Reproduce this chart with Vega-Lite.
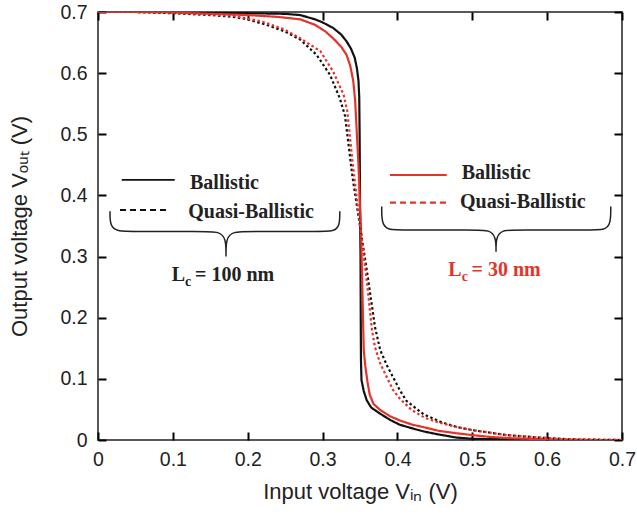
{
  "$schema": "https://vega.github.io/schema/vega-lite/v6.json",
  "width": 524,
  "height": 428,
  "autosize": "none",
  "padding": {"left": 98, "top": 12, "right": 15, "bottom": 75},
  "background": "white",
  "config": {
    "view": {"stroke": "#222", "strokeWidth": 1.5},
    "axis": {
      "domain": false,
      "grid": false,
      "labelFont": "Liberation Sans",
      "labelFontSize": 19.5,
      "labelColor": "#222",
      "titleFont": "Liberation Sans",
      "titleFontSize": 22,
      "titleFontWeight": "normal",
      "titleColor": "#222"
    }
  },
  "datasets": {
    "curves": [
      {"s": "B100", "x": 0.0, "y": 0.7},
      {"s": "B100", "x": 0.05, "y": 0.7},
      {"s": "B100", "x": 0.1, "y": 0.7},
      {"s": "B100", "x": 0.15, "y": 0.699},
      {"s": "B100", "x": 0.2, "y": 0.698},
      {"s": "B100", "x": 0.25, "y": 0.697},
      {"s": "B100", "x": 0.27, "y": 0.695},
      {"s": "B100", "x": 0.29, "y": 0.688},
      {"s": "B100", "x": 0.3, "y": 0.683},
      {"s": "B100", "x": 0.314, "y": 0.674},
      {"s": "B100", "x": 0.325, "y": 0.663},
      {"s": "B100", "x": 0.332, "y": 0.652},
      {"s": "B100", "x": 0.338, "y": 0.64},
      {"s": "B100", "x": 0.343, "y": 0.625},
      {"s": "B100", "x": 0.346, "y": 0.607},
      {"s": "B100", "x": 0.348, "y": 0.587},
      {"s": "B100", "x": 0.349, "y": 0.56},
      {"s": "B100", "x": 0.3495, "y": 0.5},
      {"s": "B100", "x": 0.35, "y": 0.4},
      {"s": "B100", "x": 0.3503, "y": 0.35},
      {"s": "B100", "x": 0.3507, "y": 0.3},
      {"s": "B100", "x": 0.351, "y": 0.2},
      {"s": "B100", "x": 0.3513, "y": 0.13},
      {"s": "B100", "x": 0.352, "y": 0.098},
      {"s": "B100", "x": 0.355, "y": 0.08},
      {"s": "B100", "x": 0.359, "y": 0.065},
      {"s": "B100", "x": 0.365, "y": 0.053},
      {"s": "B100", "x": 0.377, "y": 0.043},
      {"s": "B100", "x": 0.39, "y": 0.033},
      {"s": "B100", "x": 0.403, "y": 0.025},
      {"s": "B100", "x": 0.42, "y": 0.019},
      {"s": "B100", "x": 0.435, "y": 0.014},
      {"s": "B100", "x": 0.455, "y": 0.009},
      {"s": "B100", "x": 0.479, "y": 0.004},
      {"s": "B100", "x": 0.5, "y": 0.002},
      {"s": "B100", "x": 0.55, "y": 0.001},
      {"s": "B100", "x": 0.6, "y": 0.0},
      {"s": "B100", "x": 0.7, "y": 0.0},

      {"s": "B30", "x": 0.0, "y": 0.7},
      {"s": "B30", "x": 0.05, "y": 0.7},
      {"s": "B30", "x": 0.1, "y": 0.699},
      {"s": "B30", "x": 0.15, "y": 0.697},
      {"s": "B30", "x": 0.2, "y": 0.695},
      {"s": "B30", "x": 0.24, "y": 0.692},
      {"s": "B30", "x": 0.27, "y": 0.688},
      {"s": "B30", "x": 0.29, "y": 0.679},
      {"s": "B30", "x": 0.304, "y": 0.668},
      {"s": "B30", "x": 0.314, "y": 0.657},
      {"s": "B30", "x": 0.325, "y": 0.643},
      {"s": "B30", "x": 0.332, "y": 0.63},
      {"s": "B30", "x": 0.337, "y": 0.612},
      {"s": "B30", "x": 0.341, "y": 0.587},
      {"s": "B30", "x": 0.3435, "y": 0.556},
      {"s": "B30", "x": 0.345, "y": 0.52},
      {"s": "B30", "x": 0.348, "y": 0.45},
      {"s": "B30", "x": 0.35, "y": 0.38},
      {"s": "B30", "x": 0.351, "y": 0.355},
      {"s": "B30", "x": 0.352, "y": 0.31},
      {"s": "B30", "x": 0.354, "y": 0.2},
      {"s": "B30", "x": 0.355, "y": 0.147},
      {"s": "B30", "x": 0.357, "y": 0.122},
      {"s": "B30", "x": 0.36, "y": 0.095},
      {"s": "B30", "x": 0.363, "y": 0.074},
      {"s": "B30", "x": 0.368, "y": 0.059},
      {"s": "B30", "x": 0.377, "y": 0.049},
      {"s": "B30", "x": 0.39, "y": 0.039},
      {"s": "B30", "x": 0.403, "y": 0.032},
      {"s": "B30", "x": 0.42, "y": 0.025},
      {"s": "B30", "x": 0.435, "y": 0.021},
      {"s": "B30", "x": 0.455, "y": 0.015},
      {"s": "B30", "x": 0.479, "y": 0.011},
      {"s": "B30", "x": 0.5, "y": 0.008},
      {"s": "B30", "x": 0.524, "y": 0.005},
      {"s": "B30", "x": 0.55, "y": 0.003},
      {"s": "B30", "x": 0.6, "y": 0.001},
      {"s": "B30", "x": 0.65, "y": 0.0},
      {"s": "B30", "x": 0.7, "y": 0.0},

      {"s": "Q100", "x": 0.0, "y": 0.7},
      {"s": "Q100", "x": 0.05, "y": 0.7},
      {"s": "Q100", "x": 0.1, "y": 0.698},
      {"s": "Q100", "x": 0.15, "y": 0.695},
      {"s": "Q100", "x": 0.181, "y": 0.692},
      {"s": "Q100", "x": 0.2, "y": 0.688},
      {"s": "Q100", "x": 0.225, "y": 0.679},
      {"s": "Q100", "x": 0.25, "y": 0.668},
      {"s": "Q100", "x": 0.27, "y": 0.655},
      {"s": "Q100", "x": 0.292, "y": 0.63},
      {"s": "Q100", "x": 0.31, "y": 0.597},
      {"s": "Q100", "x": 0.323, "y": 0.559},
      {"s": "Q100", "x": 0.33, "y": 0.53},
      {"s": "Q100", "x": 0.34, "y": 0.43},
      {"s": "Q100", "x": 0.35, "y": 0.35},
      {"s": "Q100", "x": 0.36, "y": 0.27},
      {"s": "Q100", "x": 0.37, "y": 0.185},
      {"s": "Q100", "x": 0.377, "y": 0.147},
      {"s": "Q100", "x": 0.386, "y": 0.122},
      {"s": "Q100", "x": 0.403, "y": 0.082},
      {"s": "Q100", "x": 0.412, "y": 0.064},
      {"s": "Q100", "x": 0.435, "y": 0.042},
      {"s": "Q100", "x": 0.457, "y": 0.03},
      {"s": "Q100", "x": 0.48, "y": 0.021},
      {"s": "Q100", "x": 0.501, "y": 0.016},
      {"s": "Q100", "x": 0.546, "y": 0.008},
      {"s": "Q100", "x": 0.59, "y": 0.004},
      {"s": "Q100", "x": 0.63, "y": 0.001},
      {"s": "Q100", "x": 0.7, "y": 0.0},

      {"s": "Q30", "x": 0.0, "y": 0.7},
      {"s": "Q30", "x": 0.05, "y": 0.7},
      {"s": "Q30", "x": 0.1, "y": 0.699},
      {"s": "Q30", "x": 0.15, "y": 0.696},
      {"s": "Q30", "x": 0.181, "y": 0.694},
      {"s": "Q30", "x": 0.22, "y": 0.684},
      {"s": "Q30", "x": 0.25, "y": 0.671},
      {"s": "Q30", "x": 0.27, "y": 0.657},
      {"s": "Q30", "x": 0.297, "y": 0.636},
      {"s": "Q30", "x": 0.314, "y": 0.603},
      {"s": "Q30", "x": 0.328, "y": 0.565},
      {"s": "Q30", "x": 0.333, "y": 0.538},
      {"s": "Q30", "x": 0.34, "y": 0.455},
      {"s": "Q30", "x": 0.35, "y": 0.352},
      {"s": "Q30", "x": 0.36, "y": 0.25},
      {"s": "Q30", "x": 0.366, "y": 0.18},
      {"s": "Q30", "x": 0.37, "y": 0.152},
      {"s": "Q30", "x": 0.377, "y": 0.125},
      {"s": "Q30", "x": 0.394, "y": 0.082},
      {"s": "Q30", "x": 0.403, "y": 0.068},
      {"s": "Q30", "x": 0.419, "y": 0.049},
      {"s": "Q30", "x": 0.437, "y": 0.036},
      {"s": "Q30", "x": 0.457, "y": 0.028},
      {"s": "Q30", "x": 0.48, "y": 0.021},
      {"s": "Q30", "x": 0.501, "y": 0.016},
      {"s": "Q30", "x": 0.546, "y": 0.008},
      {"s": "Q30", "x": 0.59, "y": 0.004},
      {"s": "Q30", "x": 0.63, "y": 0.001},
      {"s": "Q30", "x": 0.7, "y": 0.0}
    ],
    "legendSolid": [
      {"s": "B100", "x": 0.0317, "x2": 0.1025, "y": 0.4253},
      {"s": "B30", "x": 0.39, "x2": 0.4658, "y": 0.4334}
    ],
    "legendDashed": [
      {"s": "Q100", "x": 0.0294, "x2": 0.0939, "y": 0.3762},
      {"s": "Q30", "x": 0.39, "x2": 0.4658, "y": 0.3881}
    ],
    "legendText": [
      {"t": "Ballistic", "x": 0.1229, "y": 0.4198},
      {"t": "Quasi-Ballistic", "x": 0.1206, "y": 0.3734},
      {"t": "Ballistic", "x": 0.4858, "y": 0.436},
      {"t": "Quasi-Ballistic", "x": 0.4836, "y": 0.39}
    ],
    "lcBig": [
      {"g": "k", "t": "L", "x": 0.0984, "y": 0.27},
      {"g": "k", "t": "= 100 nm", "x": 0.1296, "y": 0.27},
      {"g": "r", "t": "L", "x": 0.468, "y": 0.278},
      {"g": "r", "t": "= 30 nm", "x": 0.499, "y": 0.278}
    ],
    "lcSub": [
      {"g": "k", "t": "c", "x": 0.1162, "y": 0.259},
      {"g": "r", "t": "c", "x": 0.4858, "y": 0.267}
    ],
    "braces": [
      {"b": "left", "o": 1, "x": 0.016, "y": 0.374},
      {"b": "left", "o": 2, "x": 0.016, "y": 0.35},
      {"b": "left", "o": 3, "x": 0.026, "y": 0.341},
      {"b": "left", "o": 4, "x": 0.045, "y": 0.341},
      {"b": "left", "o": 5, "x": 0.14, "y": 0.341},
      {"b": "left", "o": 6, "x": 0.162, "y": 0.341},
      {"b": "left", "o": 7, "x": 0.171, "y": 0.33},
      {"b": "left", "o": 8, "x": 0.171, "y": 0.3},
      {"b": "left", "o": 9, "x": 0.171, "y": 0.3},
      {"b": "left", "o": 10, "x": 0.171, "y": 0.3},
      {"b": "left", "o": 11, "x": 0.171, "y": 0.33},
      {"b": "left", "o": 12, "x": 0.18, "y": 0.341},
      {"b": "left", "o": 13, "x": 0.202, "y": 0.341},
      {"b": "left", "o": 14, "x": 0.296, "y": 0.341},
      {"b": "left", "o": 15, "x": 0.315, "y": 0.341},
      {"b": "left", "o": 16, "x": 0.323, "y": 0.35},
      {"b": "left", "o": 17, "x": 0.323, "y": 0.374},
      {"b": "right", "o": 1, "x": 0.379, "y": 0.382},
      {"b": "right", "o": 2, "x": 0.379, "y": 0.353},
      {"b": "right", "o": 3, "x": 0.388, "y": 0.3435},
      {"b": "right", "o": 4, "x": 0.405, "y": 0.3435},
      {"b": "right", "o": 5, "x": 0.505, "y": 0.3435},
      {"b": "right", "o": 6, "x": 0.523, "y": 0.3435},
      {"b": "right", "o": 7, "x": 0.5317, "y": 0.332},
      {"b": "right", "o": 8, "x": 0.5317, "y": 0.308},
      {"b": "right", "o": 9, "x": 0.5317, "y": 0.308},
      {"b": "right", "o": 10, "x": 0.5317, "y": 0.308},
      {"b": "right", "o": 11, "x": 0.5317, "y": 0.332},
      {"b": "right", "o": 12, "x": 0.54, "y": 0.3435},
      {"b": "right", "o": 13, "x": 0.558, "y": 0.3435},
      {"b": "right", "o": 14, "x": 0.66, "y": 0.3435},
      {"b": "right", "o": 15, "x": 0.677, "y": 0.3435},
      {"b": "right", "o": 16, "x": 0.685, "y": 0.353},
      {"b": "right", "o": 17, "x": 0.685, "y": 0.382}
    ]
  },
  "resolve": {"axis": {"x": "independent", "y": "independent"}},
  "layer": [
    {
      "data": {"name": "curves"},
      "mark": {"type": "line", "strokeWidth": 2.2, "clip": true},
      "encoding": {
        "x": {
          "field": "x", "type": "quantitative",
          "scale": {"domain": [0, 0.7], "nice": false, "zero": false},
          "axis": {"orient": "bottom", "values": [0, 0.1, 0.2, 0.3, 0.4, 0.5, 0.6, 0.7], "format": ".1~f", "tickSize": -8, "tickColor": "#000000", "tickWidth": 2, "labelPadding": 18, "title": "Input voltage Vᵢₙ (V)", "titlePadding": 13, "labelFlush": false}
        },
        "y": {
          "field": "y", "type": "quantitative",
          "scale": {"domain": [0, 0.7], "nice": false, "zero": false},
          "axis": {"orient": "left", "values": [0, 0.1, 0.2, 0.3, 0.4, 0.5, 0.6, 0.7], "format": ".1~f", "tickSize": -8, "tickColor": "#000000", "tickWidth": 2, "labelPadding": 19, "title": "Output voltage Vₒᵤₜ (V)", "titlePadding": 28, "labelFlush": false}
        },
        "color": {
          "field": "s", "type": "nominal",
          "scale": {"domain": ["B100", "Q100", "B30", "Q30"], "range": ["#111111", "#111111", "#e5332a", "#e5332a"]},
          "legend": null
        },
        "strokeDash": {
          "field": "s", "type": "nominal",
          "scale": {"domain": ["B100", "Q100", "B30", "Q30"], "range": [[1, 0], [2.5, 2.5], [1, 0], [2.5, 2.5]]},
          "legend": null
        },
        "detail": {"field": "s"}
      }
    },
    {
      "data": {"name": "legendSolid"},
      "mark": {"type": "rule", "strokeWidth": 1.8},
      "encoding": {
        "x": {"field": "x", "type": "quantitative", "axis": {"orient": "top", "values": [0, 0.1, 0.2, 0.3, 0.4, 0.5, 0.6, 0.7], "tickSize": -8, "tickColor": "#000000", "tickWidth": 2, "labels": false, "title": null}},
        "x2": {"field": "x2"},
        "y": {"field": "y", "type": "quantitative", "axis": {"orient": "right", "values": [0, 0.1, 0.2, 0.3, 0.4, 0.5, 0.6, 0.7], "tickSize": -8, "tickColor": "#000000", "tickWidth": 2, "labels": false, "title": null}},
        "color": {"field": "s", "type": "nominal", "legend": null}
      }
    },
    {
      "data": {"name": "legendDashed"},
      "mark": {"type": "rule", "strokeWidth": 2.2, "strokeDash": [6, 4]},
      "encoding": {
        "x": {"field": "x", "type": "quantitative", "axis": null},
        "x2": {"field": "x2"},
        "y": {"field": "y", "type": "quantitative", "axis": null},
        "color": {"field": "s", "type": "nominal", "legend": null}
      }
    },
    {
      "data": {"name": "braces"},
      "mark": {"type": "line", "interpolate": "basis", "strokeWidth": 1.5, "color": "#222"},
      "encoding": {
        "x": {"field": "x", "type": "quantitative", "axis": null},
        "y": {"field": "y", "type": "quantitative", "axis": null},
        "detail": {"field": "b"},
        "order": {"field": "o", "type": "quantitative"}
      }
    },
    {
      "data": {"name": "legendText"},
      "mark": {"type": "text", "align": "left", "baseline": "middle", "font": "Liberation Serif", "fontWeight": "bold", "fontSize": 20, "color": "#222"},
      "encoding": {
        "x": {"field": "x", "type": "quantitative", "axis": null},
        "y": {"field": "y", "type": "quantitative", "axis": null},
        "text": {"field": "t"}
      }
    },
    {
      "data": {"name": "lcBig"},
      "mark": {"type": "text", "align": "left", "baseline": "middle", "font": "Liberation Serif", "fontWeight": "bold", "fontSize": 20},
      "encoding": {
        "x": {"field": "x", "type": "quantitative", "axis": null},
        "y": {"field": "y", "type": "quantitative", "axis": null},
        "text": {"field": "t"},
        "fill": {"field": "g", "type": "nominal", "scale": {"domain": ["k", "r"], "range": ["#222222", "#e5332a"]}, "legend": null}
      }
    },
    {
      "data": {"name": "lcSub"},
      "mark": {"type": "text", "align": "left", "baseline": "middle", "font": "Liberation Serif", "fontWeight": "bold", "fontSize": 14},
      "encoding": {
        "x": {"field": "x", "type": "quantitative", "axis": null},
        "y": {"field": "y", "type": "quantitative", "axis": null},
        "text": {"field": "t"},
        "fill": {"field": "g", "type": "nominal", "legend": null}
      }
    }
  ]
}
